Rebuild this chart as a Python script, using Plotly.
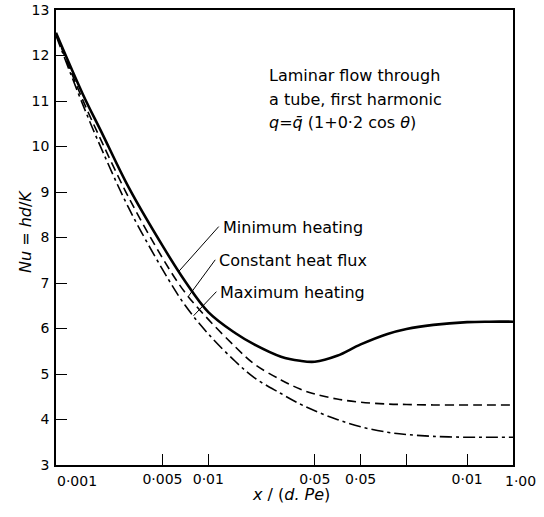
import numpy as np
import plotly.graph_objects as go

# ---- data ----
x_vals = [0.001, 0.0015, 0.002, 0.003, 0.005, 0.007, 0.01, 0.015, 0.02, 0.03,
          0.04, 0.05, 0.07, 0.1, 0.15, 0.2, 0.3, 0.5, 0.7, 1.0]
nu_min_heating = [12.5, 11.15, 10.3, 9.1, 7.82, 7.05, 6.36, 5.9, 5.65, 5.38,
                  5.29, 5.27, 5.4, 5.65, 5.88, 5.99, 6.08, 6.14, 6.15, 6.15]
nu_const_flux = [12.47, 11.02, 10.1, 8.88, 7.55, 6.8, 6.2, 5.6, 5.22, 4.87,
                 4.67, 4.56, 4.45, 4.38, 4.34, 4.33, 4.32, 4.32, 4.32, 4.32]
nu_max_heating = [12.44, 10.92, 9.93, 8.65, 7.3, 6.52, 5.88, 5.28, 4.92, 4.57,
                  4.34, 4.19, 4.0, 3.84, 3.72, 3.67, 3.63, 3.61, 3.61, 3.61]

series_names = ["Minimum heating", "Constant heat flux", "Maximum heating"]

x_tickvals = [0.001, 0.005, 0.01, 0.05, 0.1, 0.2, 0.5, 1.0]
x_ticktext = ["0·001", "0·005", "0·01", "0·05", "0·05", "", "0·01", "1·00"]
y_tickvals = [3, 4, 5, 6, 7, 8, 9, 10, 11, 12, 13]
y_ticktext = ["3", "4", "5", "6", "7", "8", "9", "10", "11", "12", "13"]

note_lines = ["Laminar flow through", "a tube, first harmonic",
              "<i>q</i>=<i>q̄</i> (1+0·2 cos <i>θ</i>)"]

FONT = "DejaVu Sans"

fig = go.Figure()

styles = [
    dict(color="black", width=2.6, dash="solid"),
    dict(color="black", width=1.6, dash="9px,5px"),
    dict(color="black", width=1.6, dash="12px,4px,3px,4px"),
]
all_series = [nu_min_heating, nu_const_flux, nu_max_heating]
for name, ys, st in zip(series_names, all_series, styles):
    fig.add_trace(go.Scatter(x=x_vals, y=ys, mode="lines", name=name,
                             line=dict(shape="spline", smoothing=1.0, **st),
                             showlegend=False, hoverinfo="skip"))

# leader lines from labels to curves
leader_curve_x = [0.0064, 0.0074, 0.0080]
leader_tail = [(0.0117, 8.24), (0.0111, 7.51), (0.0113, 6.81)]
lx = np.log10(x_vals)
for name, ys, cx, (tx, ty) in zip(series_names, all_series, leader_curve_x, leader_tail):
    cy = float(np.interp(np.log10(cx), lx, ys))
    fig.add_trace(go.Scatter(x=[cx, tx], y=[cy, ty], mode="lines",
                             line=dict(color="black", width=1),
                             showlegend=False, hoverinfo="skip"))
    fig.add_annotation(x=np.log10(tx), y=ty, xref="x", yref="y", text=name,
                       showarrow=False, xanchor="left", yanchor="middle",
                       xshift=2, yshift=-1,
                       font=dict(family=FONT, size=16, color="black"))

# note block
note_y = [11.57, 11.04, 10.53]
for txt, ny in zip(note_lines, note_y):
    fig.add_annotation(x=np.log10(0.0244), y=ny, xref="x", yref="y", text=txt,
                       showarrow=False, xanchor="left", yanchor="middle",
                       font=dict(family=FONT, size=16, color="black"))

# axis titles
fig.add_annotation(x=0.515, y=0, xref="paper", yref="paper",
                   text="<i>x</i> / (<i>d. Pe</i>)", showarrow=False,
                   xanchor="center", yanchor="middle", yshift=-29,
                   font=dict(family=FONT, size=16, color="black"))
fig.add_annotation(x=0, y=0.512, xref="paper", yref="paper",
                   text="<i>Nu</i> = <i>hd</i>/<i>K</i>", showarrow=False,
                   textangle=-90, xanchor="center", yanchor="middle", xshift=-31,
                   font=dict(family=FONT, size=16, color="black"))

# first and last x tick labels sit off-centre in the reference
axis_ticktext = list(x_ticktext)
axis_ticktext[0] = ""
axis_ticktext[-1] = ""
fig.add_annotation(x=np.log10(x_tickvals[0]), y=0, xref="x", yref="paper",
                   text=x_ticktext[0], showarrow=False, xanchor="left",
                   yanchor="middle", yshift=-16, xshift=-1,
                   font=dict(family=FONT, size=14, color="black"))
fig.add_annotation(x=np.log10(x_tickvals[-1]), y=0, xref="x", yref="paper",
                   text=x_ticktext[-1], showarrow=False, xanchor="center",
                   yanchor="middle", yshift=-16, xshift=7,
                   font=dict(family=FONT, size=14, color="black"))

fig.update_xaxes(type="log", range=[-3, 0], tickvals=x_tickvals,
                 ticktext=axis_ticktext, ticks="inside", ticklen=11,
                 tickwidth=1.2, tickcolor="black", showline=True, linewidth=1.6,
                 linecolor="black", mirror=True, showgrid=False, zeroline=False,
                 automargin=False,
                 tickfont=dict(family=FONT, size=14, color="black"))
fig.update_yaxes(range=[3, 13], tickvals=y_tickvals, ticktext=y_ticktext,
                 ticks="inside", ticklen=11, tickwidth=1.2, tickcolor="black",
                 showline=True, linewidth=1.8, linecolor="black", mirror=True,
                 showgrid=False, zeroline=False, ticklabelstandoff=2,
                 automargin=False,
                 tickfont=dict(family=FONT, size=14, color="black"))

fig.update_layout(width=544, height=517,
                  margin=dict(l=56, r=31, t=10, b=52),
                  plot_bgcolor="white", paper_bgcolor="white",
                  showlegend=False)

# remove the default 8px page margin so the figure fills the window exactly
fig.write_html("out.html",
               config={"displayModeBar": False},
               post_script="document.body.style.margin='0';"
                           "document.body.style.overflow='hidden';")
